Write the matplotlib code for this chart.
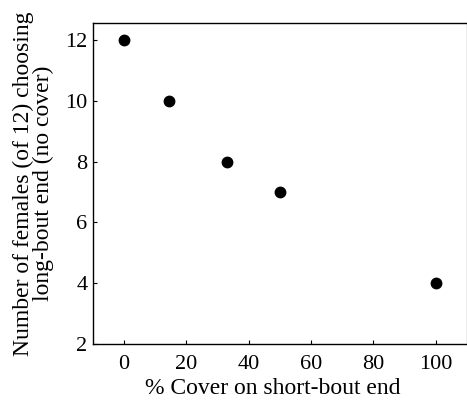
import matplotlib.pyplot as plt

# data
cover = [0, 14.5, 33, 50, 100]
females = [12, 10, 8, 7, 4]
x_ticks = [0, 20, 40, 60, 80, 100]
y_ticks = [2, 4, 6, 8, 10, 12]

plt.rcParams['font.family'] = ['Liberation Serif', 'DejaVu Serif']

fig = plt.figure(figsize=(4.67, 4.07), dpi=100)
ax = fig.add_axes([0.199, 0.155, 0.801, 0.788])

ax.plot(cover, females, 'o', color='black', markersize=7.5)

ax.set_xlim(-10, 110)
ax.set_ylim(2, 12.55)
ax.set_xticks(x_ticks)
ax.set_yticks(y_ticks)
ax.tick_params(direction='in', length=3, width=0.8, labelsize=16)
ax.tick_params(axis='x', pad=8)
ax.tick_params(axis='y', pad=4)

for s in ax.spines.values():
    s.set_linewidth(1.0)
ax.spines['right'].set_color('#999999')

ax.set_xlabel('% Cover on short-bout end', fontsize=17, labelpad=3)
ax.xaxis.label.set_x(0.481)
ax.set_ylabel('Number of females (of 12) choosing\nlong-bout end (no cover)',
              fontsize=17, labelpad=8, linespacing=0.95)

fig.savefig('out.png', dpi=100)
